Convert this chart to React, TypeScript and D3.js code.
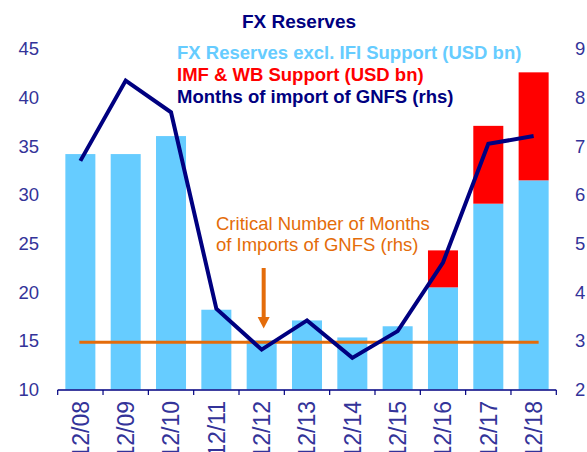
import React from "react";
import * as d3 from "d3";

const categories = ["12/08", "12/09", "12/10", "12/11", "12/12", "12/13", "12/14", "12/15", "12/16", "12/17", "12/18"];
const reservesExIFI = [34.2, 34.2, 36.05, 18.2, 15.05, 17.1, 15.35, 16.5, 20.5, 29.1, 31.5];
const imfWbSupport = [0, 0, 0, 0, 0, 0, 0, 0, 3.8, 8.0, 11.1];
const monthsOfImport = [6.7, 8.35, 7.7, 3.66, 2.82, 3.42, 2.65, 3.2, 4.61, 7.05, 7.21];
const criticalMonths = 2.97;
const leftTicks = [10, 15, 20, 25, 30, 35, 40, 45];
const rightTicks = [2, 3, 4, 5, 6, 7, 8, 9];
const legendLabels = [
  "FX Reserves excl. IFI Support (USD bn)",
  "IMF & WB Support (USD bn)",
  "Months of import of GNFS (rhs)",
];
const annotationLines = ["Critical Number of Months", "of Imports of GNFS (rhs)"];
const title = "FX Reserves";

const W = 587;
const H = 452;
const FONT = "Arial, 'Liberation Sans', Helvetica, sans-serif";
const C_BLUE = "#66CCFF";
const C_RED = "#FF0000";
const C_NAVY = "#000080";
const C_ORANGE = "#E46C0A";
const C_AXIS = "#333399";

export default function App() {
  const x = d3
    .scaleBand<string>()
    .domain(categories)
    .range([57.7, 556.3])
    .paddingInner(0.338)
    .paddingOuter(0.169);
  const yL = d3.scaleLinear().domain([10, 45]).range([389.5, 49]);
  const yR = d3.scaleLinear().domain([2, 9]).range([389.5, 49]);
  const bw = x.bandwidth();
  const cx = (c: string) => (x(c) as number) + bw / 2;

  const line = d3
    .line<number>()
    .x((_, i) => cx(categories[i]))
    .y((d) => yR(d));

  const step = x.step();
  const boundaries = d3.range(categories.length + 1).map((i) => 57.7 + i * step);

  const critY = yR(criticalMonths);
  const critX0 = cx(categories[0]) - 1;
  const critX1 = cx(categories[categories.length - 1]) + 5;

  const arrowX = cx("12/12") + 2;

  return (
    <div style={{ position: "absolute", left: 0, top: 0 }}>
      <svg width={W} height={H} style={{ display: "block", background: "#fff" }} fontFamily={FONT}>
        {categories.map((c, i) => (
          <g key={c}>
            <rect x={x(c)} y={yL(reservesExIFI[i])} width={bw} height={yL(10) - yL(reservesExIFI[i])} fill={C_BLUE} />
            {imfWbSupport[i] > 0 && (
              <rect
                x={x(c)}
                y={yL(reservesExIFI[i] + imfWbSupport[i])}
                width={bw}
                height={yL(reservesExIFI[i]) - yL(reservesExIFI[i] + imfWbSupport[i])}
                fill={C_RED}
              />
            )}
          </g>
        ))}

        <line x1={critX0} x2={critX1} y1={critY} y2={critY} stroke={C_ORANGE} strokeWidth={3} />

        <path d={line(monthsOfImport) || ""} fill="none" stroke={C_NAVY} strokeWidth={4} strokeLinejoin="miter" />

        <line x1={57.7} x2={556.3} y1={390} y2={390} stroke={C_NAVY} strokeWidth={1.5} />
        {boundaries.map((b, i) => (
          <line key={i} x1={b} x2={b} y1={390} y2={395} stroke={C_NAVY} strokeWidth={1.2} />
        ))}
        {categories.map((c) => (
          <text
            key={c}
            transform={`translate(${cx(c)},401) rotate(-90)`}
            textAnchor="end"
            dy="0.36em"
            fontSize={23}
            fill={C_AXIS}
          >
            {c}
          </text>
        ))}

        {leftTicks.map((t) => (
          <text key={t} x={39} y={yL(t)} dy="0.35em" textAnchor="end" fontSize={18.5} fill={C_AXIS}>
            {t}
          </text>
        ))}
        {rightTicks.map((t) => (
          <text key={t} x={575} y={yR(t)} dy="0.35em" textAnchor="start" fontSize={18.5} fill={C_AXIS}>
            {t}
          </text>
        ))}

        <text x={299} y={27.5} textAnchor="middle" fontSize={19} fontWeight="bold" fill={C_NAVY}>
          {title}
        </text>

        {legendLabels.map((l, i) => (
          <text
            key={l}
            x={177}
            y={58.5 + i * 22}
            fontSize={18.5}
            fontWeight="bold"
            fill={[C_BLUE, C_RED, C_NAVY][i]}
          >
            {l}
          </text>
        ))}

        {annotationLines.map((l, i) => (
          <text key={l} x={216} y={229.5 + i * 21.3} fontSize={18.5} fill={C_ORANGE}>
            {l}
          </text>
        ))}
        <line x1={arrowX} x2={arrowX} y1={268} y2={318} stroke={C_ORANGE} strokeWidth={4} />
        <path d={`M${arrowX - 6},317 L${arrowX + 6},317 L${arrowX},328.5 Z`} fill={C_ORANGE} />
      </svg>
    </div>
  );
}
